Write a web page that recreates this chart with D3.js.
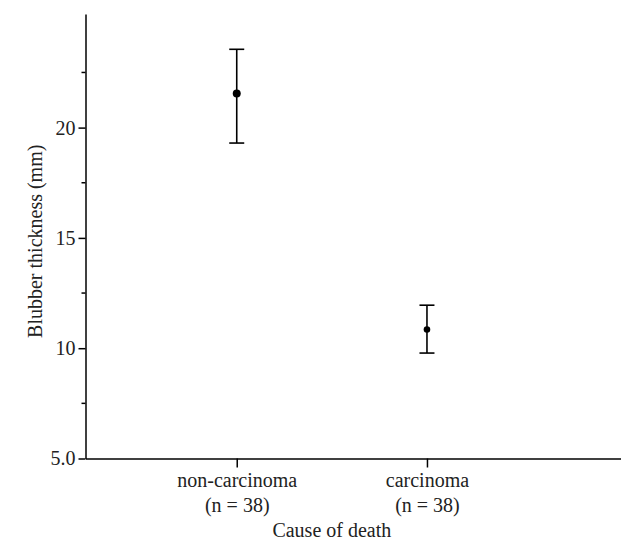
<!DOCTYPE html>
<html>
<head>
<meta charset="utf-8">
<script src="https://cdn.jsdelivr.net/npm/d3@7"></script>
<style>
  body { margin: 0; background: #fff; }
  svg text { font-family: "Liberation Serif", "Times New Roman", Times, "DejaVu Serif", serif !important; }
</style>
</head>
<body>
<div id="chart"></div>
<script>
// Data
const categories = ["non-carcinoma", "carcinoma"];
const sampleSizes = ["(n = 38)", "(n = 38)"];
const means = [21.55, 10.85];
const upper = [23.55, 11.95];
const lower = [19.3, 9.78];

const majorTicks = [5, 10, 15, 20];
const majorLabels = ["5.0", "10", "15", "20"];
const minorTicks = [7.5, 12.5, 17.5, 22.5];

// Chart dimensions
const width = 621;
const height = 542;
const margin = { top: 14, right: 0, bottom: 83.5, left: 85.5 };

const svg = d3.select("#chart")
    .append("svg")
    .attr("width", width)
    .attr("height", height);

// Scales
const y = d3.scaleLinear()
    .domain([5, 25.15])
    .range([height - margin.bottom, margin.top]);

const x = d3.scaleLinear()
    .domain([-0.795, 2.02])
    .range([margin.left, width - margin.right]);

// Y axis (major ticks with labels)
const yAxis = svg.append("g")
    .attr("transform", `translate(${margin.left},0)`)
    .call(d3.axisLeft(y)
        .tickValues(majorTicks)
        .tickFormat((d, i) => majorLabels[i])
        .tickSizeInner(7)
        .tickSizeOuter(0)
        .tickPadding(3));

// minor ticks
yAxis.selectAll(".minor")
    .data(minorTicks)
    .enter().append("line")
    .attr("class", "minor")
    .attr("x1", -4)
    .attr("x2", 0)
    .attr("y1", d => y(d))
    .attr("y2", d => y(d))
    .attr("stroke", "#000")
    .attr("stroke-width", 1.5);

// X axis
const xAxis = svg.append("g")
    .attr("transform", `translate(0,${height - margin.bottom})`)
    .call(d3.axisBottom(x)
        .tickValues(d3.range(categories.length))
        .tickFormat(i => categories[i])
        .tickSizeInner(9)
        .tickSizeOuter(0)
        .tickPadding(5));

xAxis.selectAll(".tick")
    .append("text")
    .attr("y", 53)
    .attr("fill", "#000")
    .text(i => sampleSizes[i]);

// Style both axes
svg.selectAll(".domain, .tick line")
    .attr("stroke", "#000")
    .attr("stroke-width", 1.5);
svg.selectAll(".tick text")
    .attr("fill", "#222")
    .style("font-size", "20px");

// Axis titles
svg.append("text")
    .attr("x", x(0.5))
    .attr("y", 537)
    .attr("text-anchor", "middle")
    .style("font-size", "20px")
    .attr("fill", "#222")
    .text("Cause of death");

svg.append("text")
    .attr("transform", `translate(42,${(y(5) + margin.top) / 2 + 5}) rotate(-90)`)
    .attr("text-anchor", "middle")
    .style("font-size", "20px")
    .attr("fill", "#222")
    .text("Blubber thickness (mm)");

// Error bars
const dotRadius = [4, 3.3];
const capHalf = 7.5;
const bars = svg.append("g")
    .selectAll("g")
    .data(categories)
    .enter().append("g");

bars.append("line")
    .attr("x1", (d, i) => x(i))
    .attr("x2", (d, i) => x(i))
    .attr("y1", (d, i) => y(upper[i]))
    .attr("y2", (d, i) => y(lower[i]))
    .attr("stroke", "#000")
    .attr("stroke-width", 1.6);

bars.append("line")
    .attr("x1", (d, i) => x(i) - capHalf)
    .attr("x2", (d, i) => x(i) + capHalf)
    .attr("y1", (d, i) => y(upper[i]))
    .attr("y2", (d, i) => y(upper[i]))
    .attr("stroke", "#000")
    .attr("stroke-width", 1.6);

bars.append("line")
    .attr("x1", (d, i) => x(i) - capHalf)
    .attr("x2", (d, i) => x(i) + capHalf)
    .attr("y1", (d, i) => y(lower[i]))
    .attr("y2", (d, i) => y(lower[i]))
    .attr("stroke", "#000")
    .attr("stroke-width", 1.6);

bars.append("circle")
    .attr("cx", (d, i) => x(i))
    .attr("cy", (d, i) => y(means[i]))
    .attr("r", (d, i) => dotRadius[i])
    .attr("fill", "#000");
</script>
</body>
</html>
